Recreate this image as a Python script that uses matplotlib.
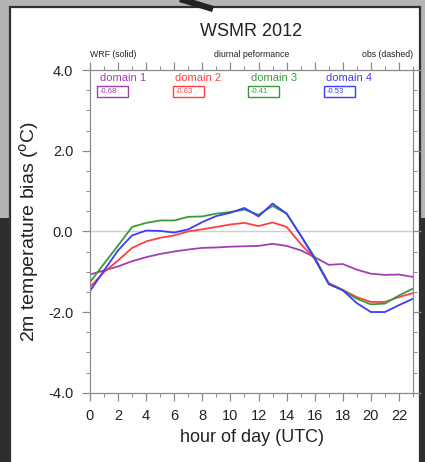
import matplotlib
matplotlib.use('Agg')
import matplotlib.pyplot as plt
from matplotlib.patches import Rectangle
from matplotlib.lines import Line2D
from matplotlib.ticker import MultipleLocator

plt.rcParams['font.family'] = ['Liberation Sans', 'DejaVu Sans']

hours = list(range(24))

domain1 = [-1.07, -0.97, -0.87, -0.74, -0.64, -0.56, -0.50, -0.45, -0.41, -0.40,
           -0.38, -0.37, -0.36, -0.31, -0.36, -0.47, -0.64, -0.83, -0.81, -0.95,
           -1.05, -1.08, -1.07, -1.13]
domain2 = [-1.38, -1.01, -0.72, -0.41, -0.25, -0.16, -0.10, 0.00, 0.05, 0.11,
           0.17, 0.21, 0.13, 0.22, 0.11, -0.31, -0.68, -1.28, -1.45, -1.63,
           -1.75, -1.75, -1.63, -1.53]
domain3 = [-1.26, -0.80, -0.35, 0.11, 0.21, 0.27, 0.27, 0.36, 0.37, 0.44,
           0.48, 0.54, 0.41, 0.63, 0.44, -0.10, -0.64, -1.30, -1.46, -1.67,
           -1.81, -1.79, -1.59, -1.42]
domain4 = [-1.48, -0.97, -0.47, -0.10, 0.02, 0.01, -0.03, 0.05, 0.23, 0.38,
           0.46, 0.58, 0.37, 0.69, 0.44, -0.10, -0.68, -1.31, -1.46, -1.78,
           -2.00, -2.00, -1.83, -1.67]

names = ['domain 1', 'domain 2', 'domain 3', 'domain 4']
mean_bias = ['-0.68', '-0.63', '-0.41', '-0.53']
colors = ['#a040b0', '#ff4040', '#3a9a3a', '#3c3cff']

W, H = 425, 462
fig = plt.figure(figsize=(W / 100, H / 100), dpi=100, facecolor='#2e2e2e')


def px(x, y):
    # pixel position (from top-left) -> figure fraction
    return x / W, 1 - y / H


# screen backdrop behind the plot window
fig.add_artist(Rectangle(px(0, 218), 1, 218 / H, transform=fig.transFigure,
                         facecolor='#b4b4b4', edgecolor='none', zorder=0))
fig.add_artist(Rectangle(px(10, 470), 410 / W, 463 / H, transform=fig.transFigure,
                         facecolor='white', edgecolor='#303030', lw=1.6, zorder=1))
fig.add_artist(Line2D([180 / W, 213 / W], [1 + 1 / H, 1 - 9 / H], transform=fig.transFigure,
                      color='#222222', lw=4.5, solid_capstyle='butt', zorder=5))

ax = fig.add_axes([90 / W, 69.3 / H, 323 / W, 322.7 / H])
ax.set_zorder(3)
ax.patch.set_alpha(0)

ax.axhline(0, color='#cfcfcf', lw=1.0, zorder=1)
for vals, c in zip([domain1, domain2, domain3, domain4], colors):
    ax.plot(hours, vals, color=c, lw=1.3, zorder=2)

ax.set_xlim(0, 23)
ax.set_ylim(-4, 4)
ax.xaxis.set_major_locator(MultipleLocator(2))
ax.xaxis.set_minor_locator(MultipleLocator(1))
ax.yaxis.set_major_locator(MultipleLocator(2))
ax.yaxis.set_minor_locator(MultipleLocator(0.5))
ax.yaxis.set_major_formatter(lambda v, p: f'{v:.1f}')

for s in ax.spines.values():
    s.set_color('#8a8a8a')
    s.set_linewidth(0.9)
ax.tick_params(which='both', direction='out', color='#8a8a8a', top=True, right=True,
               labelsize=10.5, labelcolor='#222222')
ax.tick_params(which='major', length=6, width=0.9)
ax.tick_params(which='minor', length=3, width=0.7)
ax.tick_params(axis='x', pad=6)
ax.tick_params(axis='y', pad=6)

ax.set_xlabel('hour of day (UTC)', fontsize=13, color='#222222', labelpad=4)
ax.set_ylabel('2m temperature bias ($^{\\mathrm{o}}$C)', fontsize=14, color='#222222', labelpad=5)

ax.text(0.5, 1.118, 'WSMR 2012', transform=ax.transAxes, ha='center', va='center',
        fontsize=13, color='#222222')
ax.text(0.0, 1.047, 'WRF (solid)', transform=ax.transAxes, ha='left', va='center',
        fontsize=6.3, color='#222222')
ax.text(0.5, 1.047, 'diurnal peformance', transform=ax.transAxes, ha='center', va='center',
        fontsize=6.3, color='#222222')
ax.text(1.0, 1.047, 'obs (dashed)', transform=ax.transAxes, ha='right', va='center',
        fontsize=6.3, color='#222222')

# per-domain labels with mean bias boxes
for i, (name, mb, c) in enumerate(zip(names, mean_bias, colors)):
    x0 = 0.023 + 0.2335 * i
    ax.text(x0 + 0.008, 0.974, name, transform=ax.transAxes, ha='left', va='center',
            fontsize=8, color=c)
    ax.add_patch(Rectangle((x0, 0.916), 0.096, 0.034, transform=ax.transAxes,
                           facecolor='white', edgecolor=c, lw=1.0, zorder=4))
    ax.text(x0 + 0.008, 0.933, mb, transform=ax.transAxes, ha='left', va='center',
            fontsize=5.5, color=c, zorder=5)

fig.savefig('out.png', dpi=100, facecolor=fig.get_facecolor())
